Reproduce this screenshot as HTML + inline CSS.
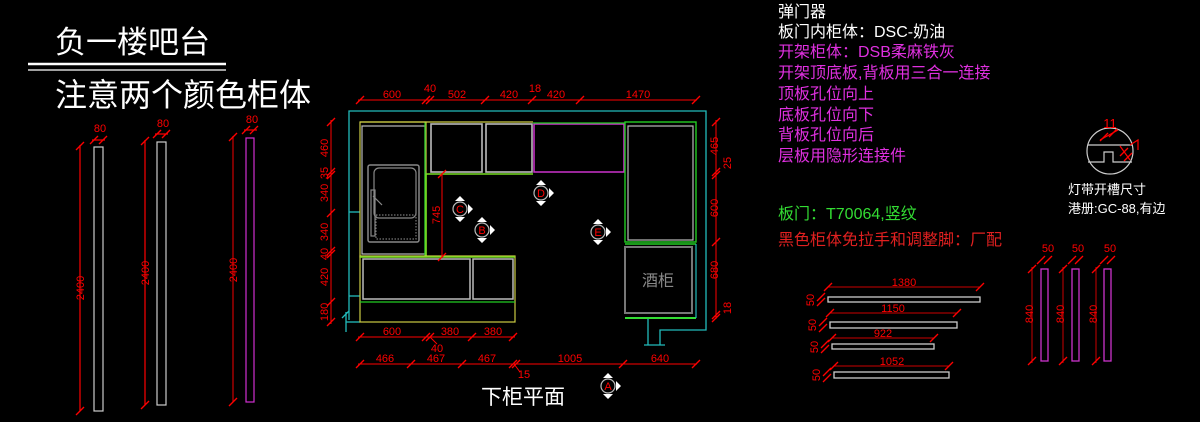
<!DOCTYPE html>
<html><head><meta charset="utf-8">
<style>
html,body{margin:0;padding:0;background:#000;}
svg{display:block}
text{font-family:"Liberation Sans","Noto Sans CJK SC",sans-serif;}
.cj{font-family:"Liberation Sans","Noto Sans CJK SC",sans-serif;}
.mono{font-family:"Liberation Mono","Noto Sans CJK SC",monospace;}
</style></head>
<body>
<svg width="1200" height="422" viewBox="0 0 1200 422" xmlns="http://www.w3.org/2000/svg">
<defs>
<g id="tk"><line x1="-4" y1="4" x2="4" y2="-4" stroke="#f00" stroke-width="1.3"/></g>
<g id="sym"><circle r="7" fill="none" stroke="#bbb" stroke-width="1.2"/><path d="M-5,-8 L0,-13 L5,-8Z M-5,8 L0,13 L5,8Z M8,-5 L13,0 L8,5Z" fill="#fff"/></g>
</defs>
<rect width="1200" height="422" fill="#000"/>

<!-- Titles -->
<text x="55" y="53" fill="#fff" font-size="31" class="cj">负一楼吧台</text>
<line x1="28" y1="64" x2="226" y2="64" stroke="#fff" stroke-width="2.5"/>
<line x1="28" y1="70" x2="226" y2="70" stroke="#fff" stroke-width="1.3"/>
<text x="55" y="106" fill="#fff" font-size="32" class="cj">注意两个颜色柜体</text>

<!-- Left tall bars -->
<g fill="none" stroke-width="1.2">
<rect x="94" y="147" width="9" height="264" stroke="#ccc"/>
<rect x="157" y="142" width="9" height="263" stroke="#ccc"/>
<rect x="246" y="138" width="8" height="264" stroke="#d030d0"/>
<line x1="80" y1="145" x2="80" y2="411" stroke="#f00"/>
<line x1="145" y1="140" x2="145" y2="405" stroke="#f00"/>
<line x1="233" y1="136" x2="233" y2="402" stroke="#c00"/>
<line x1="92" y1="140" x2="105" y2="140" stroke="#f00"/>
<line x1="155" y1="134" x2="168" y2="134" stroke="#f00"/>
<line x1="244" y1="130" x2="257" y2="130" stroke="#f00"/>
</g>
<use href="#tk" x="80" y="146"/><use href="#tk" x="80" y="411"/>
<use href="#tk" x="145" y="141"/><use href="#tk" x="145" y="405"/>
<use href="#tk" x="233" y="137"/><use href="#tk" x="233" y="402"/>
<use href="#tk" x="94" y="140"/><use href="#tk" x="103" y="140"/>
<use href="#tk" x="157" y="134"/><use href="#tk" x="166" y="134"/>
<use href="#tk" x="246" y="130"/><use href="#tk" x="254" y="130"/>
<g fill="#f00" font-size="11" text-anchor="middle">
<text x="100" y="132">80</text><text x="163" y="127">80</text><text x="252" y="123">80</text>
<text transform="translate(84,288) rotate(-90)">2400</text>
<text transform="translate(149,273) rotate(-90)">2400</text>
<text transform="translate(237,270) rotate(-90)">2400</text>
</g>

<!-- Plan: walls -->
<g fill="none" stroke="#2bb" stroke-width="1.3">
<polyline points="349,320 349,111 706,111 706,330 660,330 660,345"/>
<polyline points="346,312 346,332"/>
<line x1="346" y1="322" x2="360" y2="322"/>
<line x1="349" y1="212" x2="360" y2="212"/>
<line x1="349" y1="296" x2="360" y2="296"/>
<line x1="648" y1="318" x2="648" y2="345"/>
<line x1="644" y1="345" x2="665" y2="345"/>
<line x1="342" y1="318" x2="349" y2="311"/>
</g>
<g fill="none" stroke-width="1.2">
<rect x="360" y="122" width="66" height="135" stroke="#cc4"/>
<rect x="362" y="126" width="63" height="128" stroke="#bbb"/>
<line x1="425" y1="122" x2="425" y2="257" stroke="#2c2"/>
<rect x="368" y="165" width="51" height="77" rx="2" stroke="#888" stroke-width="1.5"/>
<rect x="374" y="168" width="42" height="50" rx="5" stroke="#888"/>
<rect x="376" y="215" width="40" height="24" stroke="#777" stroke-dasharray="1.5 1.5"/>
<rect x="371" y="190" width="4" height="46" stroke="#888"/>
<line x1="373" y1="196" x2="382" y2="205" stroke="#888"/>
<line x1="360" y1="122" x2="533" y2="122" stroke="#cc4"/>
<rect x="431" y="124" width="51" height="48" stroke="#bbb" stroke-width="1.6"/>
<rect x="486" y="124" width="46" height="48" stroke="#bbb" stroke-width="1.6"/>
<line x1="426" y1="174" x2="533" y2="174" stroke="#7d2" stroke-width="1.6"/>
<line x1="426" y1="174" x2="426" y2="257" stroke="#7d2" stroke-width="1.6"/>
<rect x="534" y="124" width="90" height="48" stroke="#c3c" stroke-width="1.5"/>
<line x1="533" y1="123" x2="625" y2="123" stroke="#2c2"/>
<rect x="625" y="122" width="71" height="120" stroke="#2c2" stroke-width="1.4"/>
<rect x="628" y="126" width="65" height="114" stroke="#bbb"/>
<line x1="625" y1="244" x2="696" y2="244" stroke="#2c2" stroke-width="1.5"/>
<rect x="625" y="247" width="67" height="66" stroke="#777" stroke-width="2"/>
<line x1="625" y1="318" x2="696" y2="318" stroke="#3d3" stroke-width="2"/>
<line x1="696" y1="244" x2="696" y2="318" stroke="#2bb"/>
<rect x="360" y="256" width="155" height="66" stroke="#cc4"/>
<line x1="360" y1="257" x2="515" y2="257" stroke="#7d2" stroke-width="1.6"/>
<rect x="363" y="259" width="107" height="40" stroke="#bbb" stroke-width="1.5"/>
<rect x="473" y="259" width="40" height="40" stroke="#bbb" stroke-width="1.5"/>
<line x1="360" y1="302" x2="515" y2="302" stroke="#2c2"/>
</g>
<text x="658" y="286" fill="#888" font-size="16" text-anchor="middle">酒柜</text>
<use href="#sym" x="541" y="193"/><use href="#sym" x="460" y="209"/>
<use href="#sym" x="482" y="230"/><use href="#sym" x="598" y="232"/>
<use href="#sym" x="608" y="386"/>
<g fill="#f00" font-size="11" text-anchor="middle" class="mono">
<text x="541" y="197">D</text><text x="460" y="213">C</text><text x="482" y="234">B</text><text x="598" y="236">E</text><text x="608" y="390">A</text>
</g>

<!-- Plan dims -->
<g stroke="#f00" stroke-width="1" fill="none">
<line x1="358" y1="100" x2="697" y2="100"/>
<line x1="331" y1="120" x2="331" y2="324"/>
<line x1="716" y1="120" x2="716" y2="319"/>
<line x1="358" y1="337" x2="515" y2="337"/>
<line x1="358" y1="364" x2="697" y2="364"/>
<line x1="442" y1="174" x2="442" y2="257"/>
<line x1="430" y1="337" x2="437" y2="344"/>
<line x1="514" y1="364" x2="520" y2="372"/>
</g>
<g>
<use href="#tk" x="360" y="100"/><use href="#tk" x="426" y="100"/><use href="#tk" x="430" y="100"/><use href="#tk" x="485" y="100"/><use href="#tk" x="532" y="100"/><use href="#tk" x="580" y="100"/><use href="#tk" x="696" y="100"/>
<use href="#tk" x="331" y="122"/><use href="#tk" x="331" y="172"/><use href="#tk" x="331" y="175"/><use href="#tk" x="331" y="213"/><use href="#tk" x="331" y="251"/><use href="#tk" x="331" y="254"/><use href="#tk" x="331" y="302"/><use href="#tk" x="331" y="322"/>
<use href="#tk" x="716" y="122"/><use href="#tk" x="716" y="172"/><use href="#tk" x="716" y="175"/><use href="#tk" x="716" y="242"/><use href="#tk" x="716" y="315"/><use href="#tk" x="716" y="318"/>
<use href="#tk" x="360" y="337"/><use href="#tk" x="426" y="337"/><use href="#tk" x="430" y="337"/><use href="#tk" x="472" y="337"/><use href="#tk" x="513" y="337"/>
<use href="#tk" x="360" y="364"/><use href="#tk" x="411" y="364"/><use href="#tk" x="462" y="364"/><use href="#tk" x="513" y="364"/><use href="#tk" x="516" y="364"/><use href="#tk" x="623" y="364"/><use href="#tk" x="696" y="364"/>
<use href="#tk" x="442" y="174"/><use href="#tk" x="442" y="257"/>
</g>
<g fill="#f00" font-size="11" text-anchor="middle">
<text x="392" y="98">600</text><text x="430" y="92">40</text><text x="457" y="98">502</text><text x="509" y="98">420</text><text x="535" y="92">18</text><text x="556" y="98">420</text><text x="638" y="98">1470</text>
<text x="392" y="335">600</text><text x="450" y="335">380</text><text x="493" y="335">380</text><text x="437" y="352">40</text>
<text x="385" y="362">466</text><text x="436" y="362">467</text><text x="487" y="362">467</text><text x="570" y="362">1005</text><text x="660" y="362">640</text><text x="524" y="378">15</text>
<text transform="translate(328,148) rotate(-90)">460</text>
<text transform="translate(328,173) rotate(-90)">35</text>
<text transform="translate(328,193) rotate(-90)">340</text>
<text transform="translate(328,232) rotate(-90)">340</text>
<text transform="translate(328,254) rotate(-90)">40</text>
<text transform="translate(328,277) rotate(-90)">420</text>
<text transform="translate(328,312) rotate(-90)">180</text>
<text transform="translate(440,215) rotate(-90)">745</text>
<text transform="translate(718,146) rotate(-90)">465</text>
<text transform="translate(731,163) rotate(-90)">25</text>
<text transform="translate(718,208) rotate(-90)">600</text>
<text transform="translate(718,270) rotate(-90)">680</text>
<text transform="translate(731,308) rotate(-90)">18</text>
</g>
<text x="523" y="404" fill="#fff" font-size="21" text-anchor="middle">下柜平面</text>

<!-- Right notes -->
<g font-size="16" class="cj">
<text x="778" y="17" fill="#fff">弹门器</text>
<text x="778" y="37" fill="#fff">板门内柜体：DSC-奶油</text>
<text x="778" y="57" fill="#e030e0">开架柜体：DSB柔麻铁灰</text>
<text x="778" y="78" fill="#e030e0">开架顶底板,背板用三合一连接</text>
<text x="778" y="99" fill="#e030e0">顶板孔位向上</text>
<text x="778" y="120" fill="#e030e0">底板孔位向下</text>
<text x="778" y="140" fill="#e030e0">背板孔位向后</text>
<text x="778" y="161" fill="#e030e0">层板用隐形连接件</text>
<text x="778" y="219" fill="#3d3">板门：T70064,竖纹</text>
<text x="778" y="245" fill="#e02020">黑色柜体免拉手和调整脚：厂配</text>
</g>
<g fill="none" stroke="#ccc" stroke-width="1.2">
<circle cx="1110" cy="151" r="23"/>
<line x1="1088" y1="145" x2="1132" y2="145"/>
<polyline points="1088,162 1104,162 1104,152 1113,152 1113,162 1132,162"/>
</g>
<g stroke="#f00" stroke-width="1.2" fill="none">
<line x1="1100" y1="140" x2="1118" y2="130"/>
<line x1="1120" y1="146" x2="1130" y2="160"/>
<polyline points="1130,145 1138,140 1138,150"/>
</g>
<use href="#tk" x="1104" y="137"/><use href="#tk" x="1113" y="133"/><use href="#tk" x="1124" y="152"/><use href="#tk" x="1128" y="157"/>
<text x="1110" y="128" fill="#f00" font-size="13" text-anchor="middle">11</text>
<g fill="#fff" font-size="13" class="cj">
<text x="1068" y="194">灯带开槽尺寸</text>
<text x="1068" y="213">港册:GC-88,有边</text>
</g>

<g fill="none" stroke="#ccc" stroke-width="1.3">
<rect x="828" y="297" width="152" height="5"/>
<rect x="830" y="322" width="127" height="6"/>
<rect x="832" y="344" width="102" height="5"/>
<rect x="834" y="372" width="115" height="6"/>
</g>
<g fill="none" stroke="#c00" stroke-width="1">
<line x1="828" y1="287" x2="980" y2="287"/>
<line x1="830" y1="313" x2="957" y2="313"/>
<line x1="832" y1="338" x2="934" y2="338"/>
<line x1="834" y1="366" x2="949" y2="366"/>
</g>
<g>
<use href="#tk" x="828" y="287"/><use href="#tk" x="980" y="287"/><use href="#tk" x="830" y="313"/><use href="#tk" x="957" y="313"/>
<use href="#tk" x="832" y="338"/><use href="#tk" x="934" y="338"/><use href="#tk" x="834" y="366"/><use href="#tk" x="949" y="366"/>
<use href="#tk" x="821" y="297"/><use href="#tk" x="821" y="302"/><use href="#tk" x="823" y="322"/><use href="#tk" x="823" y="328"/>
<use href="#tk" x="825" y="344"/><use href="#tk" x="825" y="349"/><use href="#tk" x="827" y="372"/><use href="#tk" x="827" y="378"/>
</g>
<g fill="#f00" font-size="11" text-anchor="middle">
<text x="904" y="286">1380</text><text x="893" y="312">1150</text><text x="883" y="337">922</text><text x="892" y="365">1052</text>
<text transform="translate(814,300) rotate(-90)">50</text>
<text transform="translate(816,325) rotate(-90)">50</text>
<text transform="translate(818,347) rotate(-90)">50</text>
<text transform="translate(820,375) rotate(-90)">50</text>
</g>
<g fill="none" stroke="#c3c" stroke-width="1.3">
<rect x="1041" y="269" width="7" height="92"/>
<rect x="1072" y="269" width="7" height="92"/>
<rect x="1104" y="269" width="7" height="92"/>
</g>
<g stroke="#c00" stroke-width="1">
<line x1="1032" y1="267" x2="1032" y2="363"/>
<line x1="1063" y1="267" x2="1063" y2="363"/>
<line x1="1096" y1="267" x2="1096" y2="363"/>
</g>
<g>
<use href="#tk" x="1032" y="269"/><use href="#tk" x="1032" y="361"/><use href="#tk" x="1063" y="269"/><use href="#tk" x="1063" y="361"/><use href="#tk" x="1096" y="269"/><use href="#tk" x="1096" y="361"/>
<use href="#tk" x="1041" y="260"/><use href="#tk" x="1048" y="260"/><use href="#tk" x="1072" y="260"/><use href="#tk" x="1079" y="260"/><use href="#tk" x="1104" y="260"/><use href="#tk" x="1111" y="260"/>
</g>
<g fill="#f00" font-size="11" text-anchor="middle">
<text x="1048" y="252">50</text><text x="1078" y="252">50</text><text x="1110" y="252">50</text>
<text transform="translate(1033,314) rotate(-90)">840</text>
<text transform="translate(1064,314) rotate(-90)">840</text>
<text transform="translate(1097,314) rotate(-90)">840</text>
</g>
</svg>
</body></html>
